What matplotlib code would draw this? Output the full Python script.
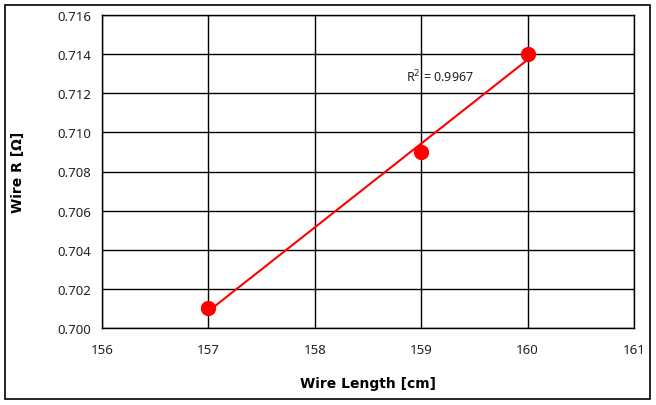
import matplotlib
matplotlib.use("Agg")
import matplotlib.pyplot as plt
import numpy as np

wire_length = [157, 159, 160]
wire_r = [0.701, 0.709, 0.714]
x_ticks = [156, 157, 158, 159, 160, 161]
y_ticks = [0.700, 0.702, 0.704, 0.706, 0.708, 0.710, 0.712, 0.714, 0.716]
r2_label = "R$^2$ = 0.9967"

plt.rcParams['font.family'] = ['Noto Sans', 'DejaVu Sans']

fig = plt.figure(figsize=(6.56, 4.06), dpi=100)
ax = fig.add_axes([102/656, 1-329/406, (634-102)/656, (329-16)/406])

# figure border
fig.patches.append(plt.Rectangle((5/656, 6/406), 645/656, 394/406, transform=fig.transFigure,
                                 fill=False, edgecolor='black', linewidth=1.2))

# trendline
coef = np.polyfit(wire_length, wire_r, 1)
xs = np.array([min(wire_length), max(wire_length)])
ax.plot(xs, np.polyval(coef, xs), color='red', linewidth=1.5, zorder=3)
ax.plot(wire_length, wire_r, 'o', color='red', markersize=10, zorder=4)

ax.set_xlim(156, 161)
ax.set_ylim(0.700, 0.716)
ax.set_xticks(x_ticks)
ax.set_yticks(y_ticks)
ax.set_xticklabels([str(v) for v in x_ticks])
ax.set_yticklabels([f"{v:.3f}" for v in y_ticks])
ax.grid(True, color='black', linewidth=1.0)
ax.set_axisbelow(True)
for s in ax.spines.values():
    s.set_linewidth(1.0)
ax.tick_params(length=0, labelsize=9.5, colors='#222222', pad=8)
ax.tick_params(axis='x', pad=11)

ax.set_xlabel("Wire Length [cm]", fontsize=10, fontweight='bold', labelpad=14,
              family=['DejaVu Sans'])
ax.set_ylabel("Wire R [Ω]", fontsize=10, fontweight='bold', labelpad=23,
              family=['DejaVu Sans'])

ax.text(158.86, 0.7129, r2_label, fontsize=9, color='#222222', va='center', ha='left')

fig.savefig("out.png", dpi=100)
